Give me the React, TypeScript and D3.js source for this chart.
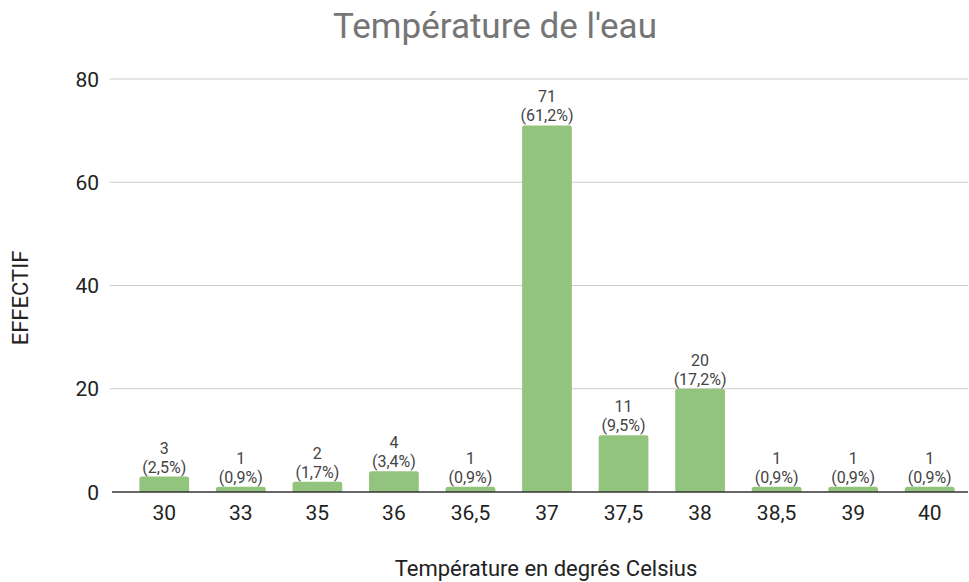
import React from "react";
import * as d3 from "d3";

const categories = ["30", "33", "35", "36", "36,5", "37", "37,5", "38", "38,5", "39", "40"];
const counts = [3, 1, 2, 4, 1, 71, 11, 20, 1, 1, 1];
const percentLabels = ["2,5%", "0,9%", "1,7%", "3,4%", "0,9%", "61,2%", "9,5%", "17,2%", "0,9%", "0,9%", "0,9%"];
const yTicks = [0, 20, 40, 60, 80];

const W = 969;
const H = 582;
const FONT = "Roboto, Arial, sans-serif";

export default function App() {
  const x = d3
    .scaleBand<string>()
    .domain(categories)
    .range([126, 968])
    .paddingInner(0.35)
    .paddingOuter(0.175);
  const y = d3.scaleLinear().domain([0, 80]).range([492, 79]);
  const bw = x.bandwidth();
  const r = 2.5;

  const barPath = (x0: number, y0: number, w: number, h: number) => {
    const rr = Math.min(r, h, w / 2);
    return `M${x0},${y0 + h}V${y0 + rr}Q${x0},${y0} ${x0 + rr},${y0}H${x0 + w - rr}Q${x0 + w},${y0} ${x0 + w},${y0 + rr}V${y0 + h}Z`;
  };

  return (
    <svg width={W} height={H} style={{ position: "absolute", left: 0, top: 0, background: "#fff" }} fontFamily={FONT}>
      <rect width={W} height={H} fill="#fff" />
      <text x={495} y={38} textAnchor="middle" fontSize={35} fill="#757575">
        Température de l'eau
      </text>
      {yTicks.map((t) => (
        <g key={t}>
          {t !== 0 && <line x1={110} x2={968} y1={y(t)} y2={y(t)} stroke="#cccccc" strokeWidth={1} />}
          <text x={99} y={y(t)} dy="0.36em" textAnchor="end" fontSize={21} fill="#222">
            {t}
          </text>
        </g>
      ))}
      {categories.map((c, i) => {
        const x0 = x(c)!;
        const yt = y(counts[i]);
        const cx = x0 + bw / 2;
        return (
          <g key={c}>
            <path d={barPath(x0, yt, bw, y(0) - yt)} fill="#93c47d" />
            <text x={cx} y={yt - 23} textAnchor="middle" fontSize={16} fill="#444">
              {counts[i]}
            </text>
            <text x={cx} y={yt - 4} textAnchor="middle" fontSize={16} fill="#444">
              ({percentLabels[i]})
            </text>
            <text x={cx} y={520} textAnchor="middle" fontSize={21} fill="#222">
              {c}
            </text>
          </g>
        );
      })}
      <line x1={112} x2={968} y1={y(0)} y2={y(0)} stroke="#333" strokeWidth={1.5} />
      <text x={546} y={576} textAnchor="middle" fontSize={22} fill="#222">
        Température en degrés Celsius
      </text>
      <text transform="translate(28,298) rotate(-90)" textAnchor="middle" fontSize={22} fill="#222">
        EFFECTIF
      </text>
    </svg>
  );
}
